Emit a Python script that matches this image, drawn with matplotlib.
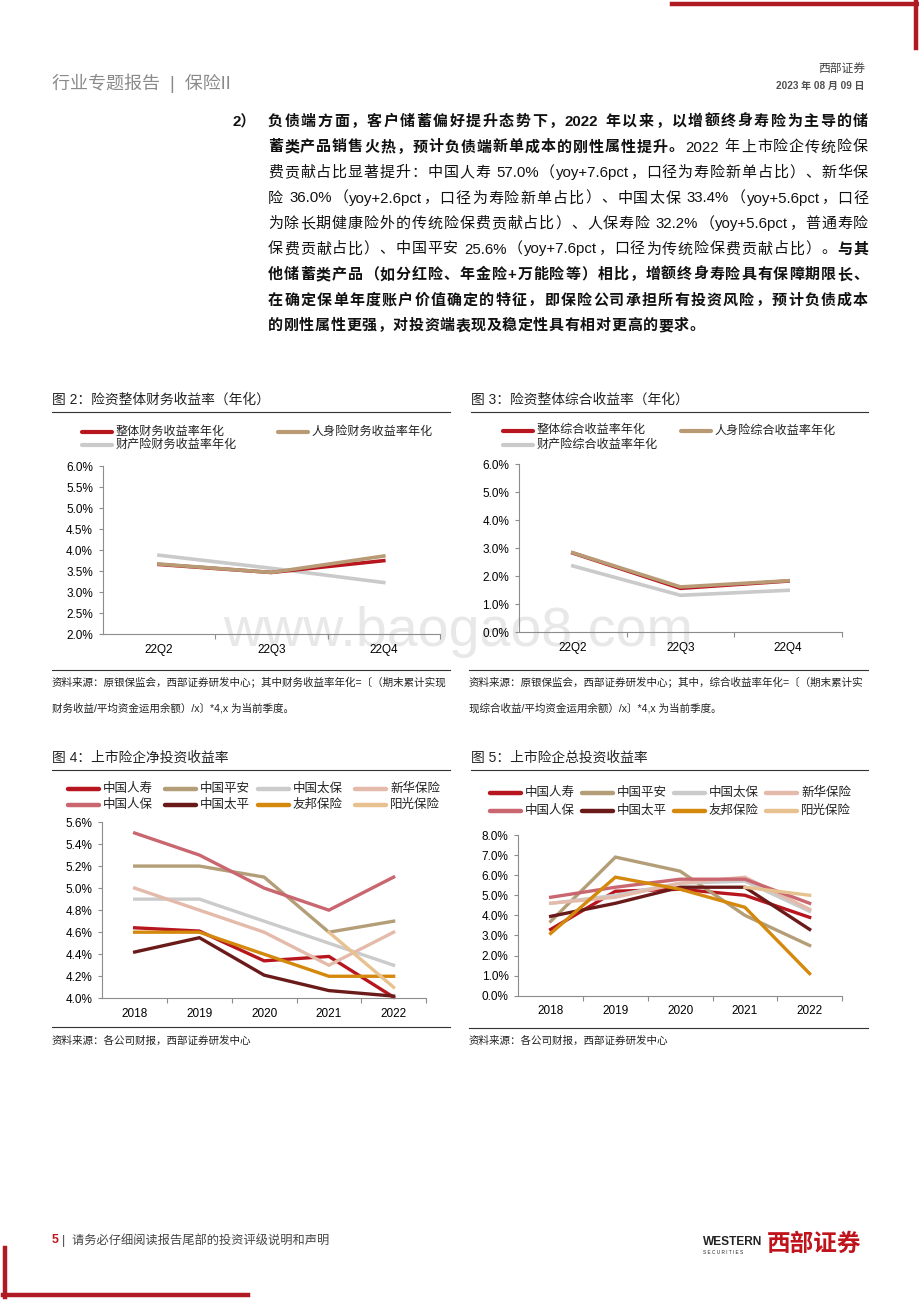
import re
import numpy as np
import matplotlib
matplotlib.use('Agg')
import matplotlib.pyplot as plt
from matplotlib.lines import Line2D

FAM = ['Liberation Sans', 'Noto Sans CJK SC', 'DejaVu Sans']
plt.rcParams['font.family'] = FAM

W, H = 920, 1302

# ===== Data =====
quarters = ['22Q2', '22Q3', '22Q4']
fin_labels = ['整体财务收益率年化', '人身险财务收益率年化', '财产险财务收益率年化']
fin_total = [3.66, 3.47, 3.75]
fin_life = [3.67, 3.47, 3.86]
fin_prop = [3.88, 3.57, 3.23]

comp_labels = ['整体综合收益率年化', '人身险综合收益率年化', '财产险综合收益率年化']
comp_total = [2.82, 1.56, 1.82]
comp_life = [2.83, 1.61, 1.83]
comp_prop = [2.36, 1.31, 1.49]

years = ['2018', '2019', '2020', '2021', '2022']
companies = ['中国人寿', '中国平安', '中国太保', '新华保险', '中国人保', '中国太平', '友邦保险', '阳光保险']
nan = np.nan
net_yield = [
    [4.64, 4.61, 4.34, 4.38, 4.01],
    [5.20, 5.20, 5.10, 4.60, 4.70],
    [4.90, 4.90, 4.70, 4.50, 4.30],
    [5.00, 4.80, 4.60, 4.30, 4.60],
    [5.50, 5.30, 5.00, 4.80, 5.10],
    [4.42, 4.55, 4.21, 4.07, 4.02],
    [4.60, 4.60, 4.40, 4.20, 4.20],
    [nan, nan, nan, 4.60, 4.10],
]
total_yield = [
    [3.30, 5.20, 5.30, 5.00, 3.90],
    [3.70, 6.90, 6.20, 4.00, 2.50],
    [4.60, 5.00, 5.60, 5.70, 4.20],
    [4.60, 4.90, 5.60, 5.90, 4.30],
    [4.90, 5.40, 5.80, 5.80, 4.60],
    [3.95, 4.60, 5.40, 5.40, 3.30],
    [3.10, 5.90, 5.30, 4.40, 1.10],
    [nan, nan, nan, 5.40, 5.00],
]

C_RED, C_TAN, C_GRAY = '#B8161F', '#B89A74', '#CACACA'
co_colors = [C_RED, '#B39E78', '#CBCBCB', '#E4BBAA', '#C9666F', '#6A1B19', '#D4880C', '#E7C290']

para = [
    [("2）负债端方面，客户储蓄偏好提升态势下，2022 年以来，以增额终身寿险为主导的储", True)],
    [("蓄类产品销售火热，预计负债端新单成本的刚性属性提升。", True), ("2022 年上市险企传统险保", False)],
    [("费贡献占比显著提升：中国人寿 57.0%（yoy+7.6pct，口径为寿险新单占比）、新华保", False)],
    [("险 36.0%（yoy+2.6pct，口径为寿险新单占比）、中国太保 33.4%（yoy+5.6pct，口径", False)],
    [("为除长期健康险外的传统险保费贡献占比）、人保寿险 32.2%（yoy+5.6pct，普通寿险", False)],
    [("保费贡献占比）、中国平安 25.6%（yoy+7.6pct，口径为传统险保费贡献占比）。", False), ("与其", True)],
    [("他储蓄类产品（如分红险、年金险+万能险等）相比，增额终身寿险具有保障期限长、", True)],
    [("在确定保单年度账户价值确定的特征，即保险公司承担所有投资风险，预计负债成本", True)],
    [("的刚性属性更强，对投资端表现及稳定性具有相对更高的要求。", True)],
]

fig = plt.figure(figsize=(W / 100, H / 100), dpi=100)
page = fig.add_axes([0, 0, 1, 1], zorder=0)
page.set_xlim(0, W); page.set_ylim(H, 0); page.axis('off')
renderer = fig.canvas.get_renderer()

# ===== Page frame =====
page.add_line(Line2D([672, 918], [4, 4], color='#B01A22', lw=3.2))
page.add_line(Line2D([916, 916], [0, 48], color='#B01A22', lw=3.2))
page.add_line(Line2D([5, 5], [1248, 1297], color='#B01A22', lw=3.2))
page.add_line(Line2D([3, 248], [1295, 1295], color='#B01A22', lw=3.2))
page.text(52, 83, '行业专题报告  |  保险II', fontsize=13, color='#8a8a8a', va='center')
page.text(865, 70, '西部证券', fontsize=8.5, color='#404040', ha='right', va='center')
page.text(865, 86, '2023 年 08 月 09 日', fontsize=7.2, color='#505050', ha='right', va='center',
          fontweight='bold')

# ===== Paragraph (justified) =====
FS = 10.8
EM = FS * 100 / 72

def tokenize(s):
    return re.findall(r'[A-Za-z0-9.%+]+|\s|.', s)

def text_w(tok, bold):
    if tok == ' ':
        return EM * 0.28
    if not tok.isascii():
        return EM
    t = page.text(0, 0, tok, fontsize=FS, fontweight='bold' if bold else 'normal')
    w = t.get_window_extent(renderer).width
    t.remove()
    return w

y0, dy = 122, 25.5
for i, line in enumerate(para):
    toks = []
    for seg, bold in line:
        for tk in tokenize(seg):
            toks.append((tk, bold))
    y = y0 + i * dy
    x = 268
    if i == 0:
        page.text(233, y, '2）', fontsize=FS, fontweight='bold', va='center', color='#111111')
        toks = toks[2:]
    widths = [text_w(tk, b) for tk, b in toks]
    gap = (868 - x - sum(widths)) / (len(toks) - 1) if i < len(para) - 1 else 0.6
    for (tk, b), w in zip(toks, widths):
        if tk != ' ':
            page.text(x, y, tk, fontsize=FS, fontweight='bold' if b else 'normal',
                      va='center', ha='left', color='#111111')
        x += w + gap

# watermark
page.text(458, 632, 'www.baogao8.com', fontsize=40, color='#e8e8e8', ha='center', va='center')

# ===== Charts =====
def rect(l, t, r, b):
    return [l / W, 1 - b / H, (r - l) / W, (b - t) / H]

def chart(box, cats, series, colors, ylim, step, lw=2.4):
    ax = fig.add_axes(rect(*box), zorder=2)
    ax.patch.set_alpha(0)
    n = len(cats)
    xs = np.arange(n)
    for vals, c in zip(series, colors):
        ax.plot(xs, vals, color=c, lw=lw, clip_on=False, solid_joinstyle='miter')
    ax.set_xlim(-0.5, n - 0.5)
    ax.set_ylim(*ylim)
    ticks = np.arange(ylim[0], ylim[1] + step / 2, step)
    ax.set_yticks(ticks)
    ax.set_yticklabels([f'{v:.1f}%' for v in ticks])
    ax.set_xticks(xs)
    ax.set_xticklabels(cats)
    ax.set_xticks(np.arange(0.5, n, 1.0), minor=True)
    for s in ['top', 'right']:
        ax.spines[s].set_visible(False)
    for s in ['left', 'bottom']:
        ax.spines[s].set_color('#8c8c8c'); ax.spines[s].set_linewidth(0.8)
    ax.tick_params(axis='x', which='major', length=0, pad=7, labelsize=8.5)
    ax.tick_params(axis='x', which='minor', length=3.5, color='#8c8c8c', width=0.8)
    ax.tick_params(axis='y', length=3, color='#8c8c8c', width=0.8, pad=4, labelsize=8.5)
    return ax

def head(x, y, x1, title, yline):
    page.text(x, y, title, fontsize=9.9, va='center', color='#222222')
    page.add_line(Line2D([x, x1], [yline, yline], color='#333333', lw=0.8))

def foot(x, x1, yline, lines, ys):
    page.add_line(Line2D([x, x1], [yline, yline], color='#333333', lw=0.8))
    for s, yy in zip(lines, ys):
        page.text(x, yy, s, fontsize=7.6, va='center', color='#222222')

def legend_item(x, y, label, color, fs, lw=3.0, length=30):
    page.add_line(Line2D([x, x + length], [y, y], color=color, lw=lw, solid_capstyle='round'))
    page.text(x + length + 4, y, label, fontsize=fs, va='center', color='#222222')

# Fig 2
head(52, 400, 450, '图 2：险资整体财务收益率（年化）', 412)
legend_item(82, 431.5, fin_labels[0], C_RED, 8.7)
legend_item(278, 431.5, fin_labels[1], C_TAN, 8.7)
legend_item(82, 444.5, fin_labels[2], C_GRAY, 8.7)
chart((102.7, 466, 440, 634.3), quarters, [fin_prop, fin_total, fin_life],
      [C_GRAY, C_RED, C_TAN], (2.0, 6.0), 0.5, lw=2.6)
foot(52, 450, 669.5, ['资料来源：原银保监会，西部证券研发中心；其中财务收益率年化=〔（期末累计实现',
                      '财务收益/平均资金运用余额）/x〕*4,x 为当前季度。'], [683, 708])

# Fig 3
head(471, 400, 868, '图 3：险资整体综合收益率（年化）', 412)
legend_item(503, 430.5, comp_labels[0], C_RED, 8.7)
legend_item(681, 430.5, comp_labels[1], C_TAN, 8.7)
legend_item(503, 444.5, comp_labels[2], C_GRAY, 8.7)
chart((519, 464, 842, 632), quarters, [comp_prop, comp_total, comp_life],
      [C_GRAY, C_RED, C_TAN], (0.0, 6.0), 1.0, lw=2.6)
foot(469, 868, 669.5, ['资料来源：原银保监会，西部证券研发中心；其中，综合收益率年化=〔（期末累计实',
                       '现综合收益/平均资金运用余额）/x〕*4,x 为当前季度。'], [683, 708])

# Fig 4
head(52, 758, 450, '图 4：上市险企净投资收益率', 770)
cols4 = [68, 165, 258, 355]
for k, (name, c) in enumerate(zip(companies, co_colors)):
    legend_item(cols4[k % 4], 789 if k < 4 else 805, name, c, 9, lw=3.2, length=31)
chart((102.3, 822, 426, 998.3), years, net_yield, co_colors, (4.0, 5.6), 0.2, lw=2.4)
foot(52, 450, 1027, ['资料来源：各公司财报，西部证券研发中心'], [1041])

# Fig 5
head(471, 758, 868, '图 5：上市险企总投资收益率', 770)
cols5 = [490, 582, 674, 766]
for k, (name, c) in enumerate(zip(companies, co_colors)):
    legend_item(cols5[k % 4], 793 if k < 4 else 811, name, c, 9, lw=3.2, length=31)
chart((518.3, 835, 842, 995.7), years, total_yield, co_colors, (0.0, 8.0), 1.0, lw=2.4)
foot(469, 868, 1028, ['资料来源：各公司财报，西部证券研发中心'], [1041])

# ===== Footer =====
page.text(52, 1240, '5', fontsize=8.8, color='#C0141C', fontweight='bold', va='center')
page.text(62, 1240, '|  请务必仔细阅读报告尾部的投资评级说明和声明', fontsize=8.8, color='#444444', va='center')
page.text(703, 1242, 'WESTERN', fontsize=8.6, fontweight='bold', color='#222222', va='center')
page.text(703, 1252, 'S E C U R I T I E S', fontsize=3.4, color='#222222', va='center')
page.text(767, 1244, '西部证券', fontsize=17, fontweight='bold', color='#C0141C', va='center')

fig.savefig('out.png', dpi=100)
